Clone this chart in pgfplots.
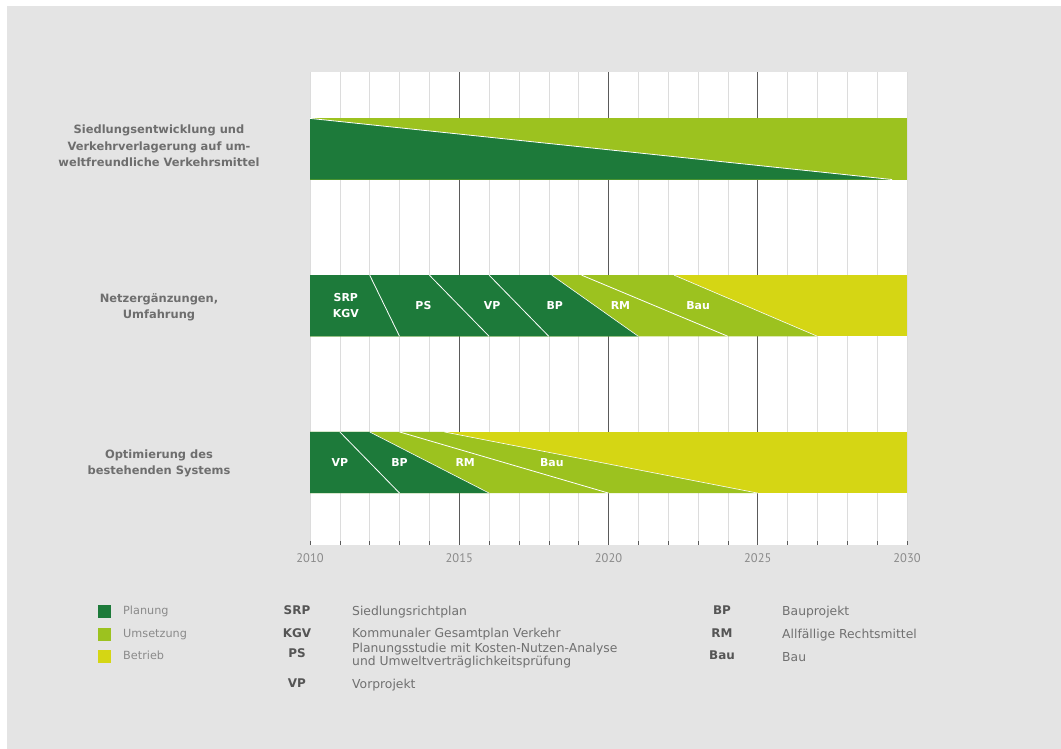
\documentclass[border=0pt]{standalone}
\usepackage{pgfplots}
\pgfplotsset{compat=1.18}
\usepackage{fontspec}
\setmainfont{DejaVu Sans}
\newfontfamily\tickfont{PT Sans}

\definecolor{panel}{HTML}{E4E4E4}
\definecolor{planung}{HTML}{1D7A3A}
\definecolor{umsetzung}{HTML}{9CC21F}
\definecolor{betrieb}{HTML}{D5D614}
\definecolor{labelgray}{HTML}{6E6E6E}
\definecolor{textgray}{HTML}{8A8A8A}
\definecolor{abbrgray}{HTML}{555555}
\definecolor{descgray}{HTML}{707070}
\definecolor{gridlight}{HTML}{DCDCDC}
\definecolor{griddark}{HTML}{5A5A5A}

% bar geometry: rows centred at 3, 2, 1 with half height 0.195
\def\tA{3.195}\def\bA{2.805}
\def\tB{2.195}\def\bB{1.805}
\def\tC{1.195}\def\bC{0.805}

\begin{document}
\begin{tikzpicture}[x=1bp,y=1bp,
  barlabel/.style={font=\bfseries\fontsize{11}{16.5}\selectfont, text=white, align=center, inner sep=0pt},
  rowlabel/.style={font=\bfseries\fontsize{11.5}{16.5}\selectfont, text=labelgray, align=center, inner sep=0pt},
  legtext/.style={font=\fontsize{11.3}{12}\selectfont, text=textgray, anchor=west, inner sep=0pt, text height=0.75em, text depth=0.2em},
  abbr/.style={font=\bfseries\fontsize{12}{14}\selectfont, text=abbrgray, inner sep=0pt, text height=0.75em, text depth=0.2em},
  desc/.style={font=\fontsize{12.4}{10.8}\selectfont, text=descgray, anchor=west, align=left, inner sep=0pt},
]
\fill[white] (0,0) rectangle (1061,749);
\fill[panel] (7,0) rectangle (1061,743);
\useasboundingbox (0,0) rectangle (1061,749);

\begin{axis}[
  at={(310bp,204bp)}, anchor=south west,
  scale only axis, width=597bp, height=473bp,
  xmin=2010, xmax=2030, ymin=0.474, ymax=3.491,
  axis background/.style={fill=white},
  axis line style={draw=none},
  xtick={2010,2015,2020,2025,2030},
  minor xtick={2011,2012,2013,2014,2016,2017,2018,2019,2021,2022,2023,2024,2026,2027,2028,2029},
  ytick=\empty,
  xtick pos=left,
  tick align=inside,
  major tick length=4bp, minor tick length=4bp,
  tick style={griddark, line width=0.6pt},
  xmajorgrids, xminorgrids,
  major grid style={gridlight, line width=0.6pt},
  minor grid style={gridlight, line width=0.6pt},
  extra x ticks={2015,2020,2025},
  extra x tick labels={},
  extra x tick style={grid=major, major grid style={griddark, line width=1pt}},
  xticklabel style={font=\tickfont\fontsize{12.5}{13}\selectfont, text=textgray, anchor=center, yshift=-13bp},
  /pgf/number format/assume math mode=true,
  /pgf/number format/1000 sep={},
  clip=false,
]
% Siedlungsentwicklung und Verkehrverlagerung
\addplot[fill=umsetzung, draw=none] coordinates {(2010,\tA) (2030,\tA) (2030,\bA) (2010,\bA)} --cycle;
\addplot[fill=planung, draw=none] coordinates {(2010,\tA) (2029.5,\bA) (2010,\bA)} --cycle;
\addplot[white, line width=0.8pt] coordinates {(2010,\tA) (2029.5,\bA)};

% Netzergaenzungen, Umfahrung
\addplot[fill=betrieb, draw=none] coordinates {(2010,\tB) (2030,\tB) (2030,\bB) (2010,\bB)} --cycle;
\addplot[fill=umsetzung, draw=none] coordinates {(2010,\tB) (2022.2,\tB) (2027,\bB) (2010,\bB)} --cycle;
\addplot[fill=planung, draw=none] coordinates {(2010,\tB) (2018.1,\tB) (2021,\bB) (2010,\bB)} --cycle;
\addplot[white, line width=0.8pt] coordinates {(2012,\tB) (2013,\bB)};
\addplot[white, line width=0.8pt] coordinates {(2014,\tB) (2016,\bB)};
\addplot[white, line width=0.8pt] coordinates {(2016,\tB) (2018,\bB)};
\addplot[white, line width=0.6pt] coordinates {(2018.1,\tB) (2021,\bB)};
\addplot[white, line width=0.8pt] coordinates {(2019.1,\tB) (2024,\bB)};
\addplot[white, line width=0.6pt] coordinates {(2022.2,\tB) (2027,\bB)};

% Optimierung des bestehenden Systems
\addplot[fill=betrieb, draw=none] coordinates {(2010,\tC) (2030,\tC) (2030,\bC) (2010,\bC)} --cycle;
\addplot[fill=umsetzung, draw=none] coordinates {(2010,\tC) (2014.5,\tC) (2025,\bC) (2010,\bC)} --cycle;
\addplot[fill=planung, draw=none] coordinates {(2010,\tC) (2012,\tC) (2016,\bC) (2010,\bC)} --cycle;
\addplot[white, line width=0.8pt] coordinates {(2011,\tC) (2013,\bC)};
\addplot[white, line width=0.6pt] coordinates {(2012,\tC) (2016,\bC)};
\addplot[white, line width=0.8pt] coordinates {(2013,\tC) (2020,\bC)};
\addplot[white, line width=0.6pt] coordinates {(2014.5,\tC) (2025,\bC)};

% phase names inside the bars
\node[barlabel] at (axis cs:2011.2,2) {SRP\\KGV};
\node[barlabel] at (axis cs:2013.8,2) {PS};
\node[barlabel] at (axis cs:2016.1,2) {VP};
\node[barlabel] at (axis cs:2018.2,2) {BP};
\node[barlabel] at (axis cs:2020.4,2) {RM};
\node[barlabel] at (axis cs:2023.0,2) {Bau};
\node[barlabel] at (axis cs:2011.0,1) {VP};
\node[barlabel] at (axis cs:2013.0,1) {BP};
\node[barlabel] at (axis cs:2015.2,1) {RM};
\node[barlabel] at (axis cs:2018.1,1) {Bau};
\end{axis}

% row titles
\node[rowlabel] at (159,603) {Siedlungsentwicklung und\\Verkehrverlagerung auf um-\\weltfreundliche Verkehrsmittel};
\node[rowlabel] at (159,441.5) {Netzergänzungen,\\Umfahrung};
\node[rowlabel] at (159,285.5) {Optimierung des\\bestehenden Systems};

% colour key
\fill[planung]   (97.5,130.5) rectangle (110.5,143.5);
\fill[umsetzung] (97.5,107.5) rectangle (110.5,120.5);
\fill[betrieb]   (97.5,85.5)  rectangle (110.5,98.5);
\node[legtext] at (123,137) {Planung};
\node[legtext] at (123,114) {Umsetzung};
\node[legtext] at (123,92)  {Betrieb};

% abbreviations
\node[abbr] at (297,137) {SRP};
\node[abbr] at (297,114) {KGV};
\node[abbr] at (297,94)  {PS};
\node[abbr] at (297,64)  {VP};
\node[desc] at (352,137) {Siedlungsrichtplan};
\node[desc] at (352,115) {Kommunaler Gesamtplan Verkehr};
\node[desc] at (352,93)  {Planungsstudie mit Kosten-Nutzen-Analyse\\und Umweltverträglichkeitsprüfung};
\node[desc] at (352,64)  {Vorprojekt};
\node[abbr] at (722,137) {BP};
\node[abbr] at (722,114) {RM};
\node[abbr] at (722,92)  {Bau};
\node[desc] at (782,137) {Bauprojekt};
\node[desc] at (782,114) {Allfällige Rechtsmittel};
\node[desc] at (782,92)  {Bau};
\end{tikzpicture}
\end{document}
